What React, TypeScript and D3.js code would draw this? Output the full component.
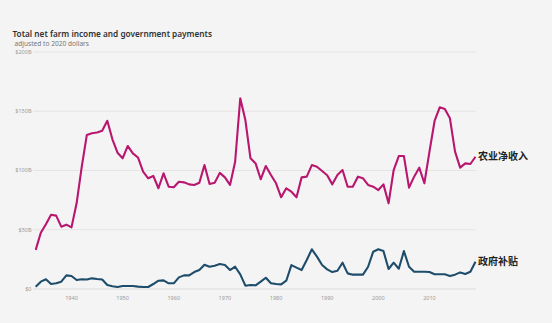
import React from "react";
import * as d3 from "d3";

const years: number[] = d3.range(1933, 2020);

const farmIncome: number[] = [
  33, 47.5, 54.6, 62.7, 61.9, 52.6, 54.3, 52, 72.3, 103,
  130, 131.4, 132, 133.6, 142, 126.3, 115, 110.3, 120.7, 114.5,
  111, 99, 93.4, 95.4, 85, 97.6, 86.3, 85.8, 90.5, 90,
  88.3, 87.8, 89.7, 104.6, 88.6, 89.7, 98, 94.2, 87.8, 107.4,
  161, 142.6, 110.3, 106, 92.6, 103.8, 96.2, 89.2, 77.4, 85,
  82.1, 77.4, 94.2, 94.8, 104.6, 103.2, 99.6, 96, 88.3, 96.2,
  100.4, 86.3, 86.3, 94.8, 93.4, 87.8, 86.3, 83.5, 88.3, 72.3,
  100.4, 112.2, 112.2, 85.5, 94.8, 102.4, 89.2, 115.9, 141.8, 153.3,
  151.9, 144, 115.9, 102.4, 106, 105.5, 111.6,
];

const govPayments: number[] = [
  2, 6.2, 8.2, 4.2, 4.8, 6.2, 11.5, 11, 7.6, 8.2,
  8, 9, 8.4, 8, 3.4, 2.3, 1.7, 2.5, 2.5, 2.5,
  2, 1.7, 1.7, 4.2, 7, 7.3, 4.8, 4.8, 9.8, 11.5,
  11.5, 14.3, 16, 20.5, 18.8, 19.7, 21.1, 20.3, 16, 18.8,
  12.4, 2.8, 3.4, 3.1, 6.2, 9.5, 4.8, 4.2, 3.9, 7,
  20.2, 18, 16, 24.5, 33.5, 27.3, 20.2, 16.6, 14.3, 15.4,
  22.2, 13.2, 12.1, 12.1, 12.1, 18.8, 31.5, 33.5, 32, 16.9,
  22.2, 17.1, 32, 18.8, 14.6, 14.6, 14.6, 14.3, 12.4, 12.4,
  12.4, 11, 12.1, 14, 12.7, 14.6, 23,
];

const yTicks: number[] = [0, 50, 100, 150, 200];
const yTickLabels: string[] = ["$0", "$50B", "$100B", "$150B", "$200B"];
const xTicks: number[] = [1940, 1950, 1960, 1970, 1980, 1990, 2000, 2010];

const title = "Total net farm income and government payments";
const subtitle = "adjusted to 2020 dollars";
const seriesLabels: string[] = ["农业净收入", "政府补贴"];

export default function App() {
  const W = 552;
  const H = 323;
  const x = d3.scaleLinear().domain([1933, 2019]).range([35.7, 475.5]);
  const y = d3.scaleLinear().domain([0, 200]).range([289, 52]);
  const gridX0 = 33;
  const gridX1 = 476;

  const line = d3
    .line<number>()
    .x((_, i) => x(years[i]))
    .y((d) => y(d))
    .curve(d3.curveLinear);

  const fontUI = "'Noto Sans', 'Open Sans', sans-serif";
  const cjk = "'Noto Sans CJK SC', sans-serif";

  return (
    <svg
      width={W}
      height={H}
      style={{ position: "absolute", left: 0, top: 0, background: "#f4f4f4" }}
    >
      <rect x={0} y={0} width={W} height={H} fill="#f4f4f4" />
      <text
        x={12.5}
        y={36.5}
        fontFamily={fontUI}
        fontWeight={600}
        fontSize={9.4}
        fill="#333"
        textLength={199.5}
        lengthAdjust="spacingAndGlyphs"
      >
        {title}
      </text>
      <text
        x={14.5}
        y={46}
        fontFamily={fontUI}
        fontSize={7}
        fill="#777"
        textLength={74.5}
        lengthAdjust="spacingAndGlyphs"
      >
        {subtitle}
      </text>
      {yTicks.map((t, i) => (
        <g key={t}>
          <line
            x1={gridX0}
            x2={gridX1}
            y1={y(t)}
            y2={y(t)}
            stroke={t === 0 ? "#dcdcdc" : "#e4e4e4"}
            strokeWidth={1}
          />
          <text
            x={31.5}
            y={y(t)}
            dy="0.35em"
            textAnchor="end"
            fontFamily={fontUI}
            fontSize={5.5}
            fill="#999"
          >
            {yTickLabels[i]}
          </text>
        </g>
      ))}
      {xTicks.map((t) => (
        <text
          key={t}
          x={x(t)}
          y={298}
          dy="0.35em"
          textAnchor="middle"
          fontFamily={fontUI}
          fontSize={5.5}
          fill="#999"
        >
          {t}
        </text>
      ))}
      <path d={line(farmIncome) || ""} fill="none" stroke="#b8166f" strokeWidth={2.1} strokeLinejoin="round" />
      <path d={line(govPayments) || ""} fill="none" stroke="#1e4d6b" strokeWidth={2.1} strokeLinejoin="round" />
      <text
        x={478}
        y={y(farmIncome[farmIncome.length - 1])}
        dy="0.35em"
        fontFamily={cjk}
        fontWeight={700}
        fontSize={10}
        fill="#222"
      >
        {seriesLabels[0]}
      </text>
      <text
        x={478}
        y={y(govPayments[govPayments.length - 1])}
        dy="0.35em"
        fontFamily={cjk}
        fontWeight={700}
        fontSize={10}
        fill="#222"
      >
        {seriesLabels[1]}
      </text>
    </svg>
  );
}
